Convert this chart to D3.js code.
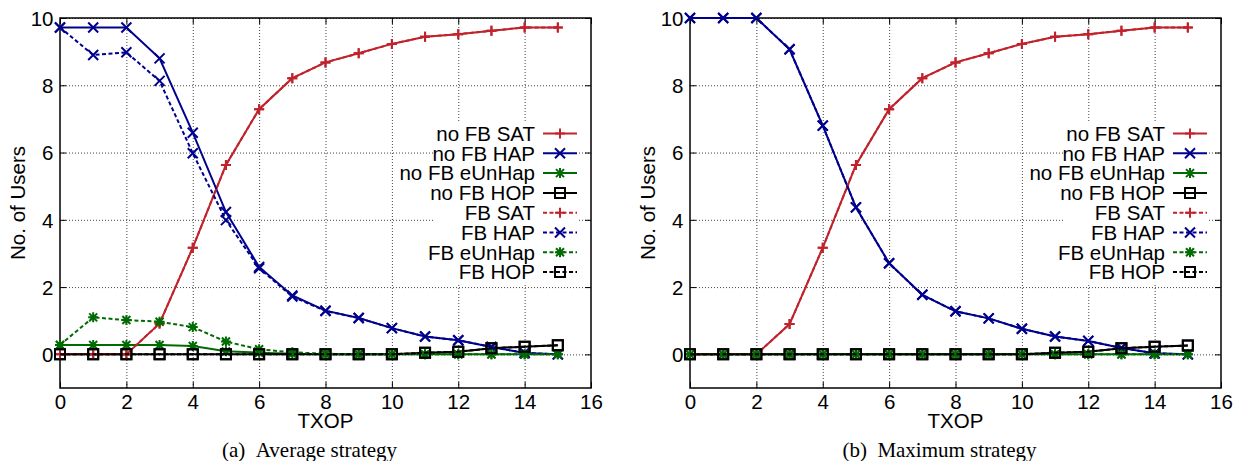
<!DOCTYPE html>
<html>
<head>
<meta charset="utf-8">
<script src="https://cdn.jsdelivr.net/npm/d3@7"></script>
<style>
  body { margin: 0; background: #fff; }
  svg { display: block; }
  text { font-family: "Liberation Sans", Arial, Helvetica, sans-serif; }
  .caption { font-family: "Liberation Serif", "Times New Roman", serif; }
</style>
</head>
<body>
<svg id="chart" width="1240" height="461"></svg>
<script>
// x values (TXOP)
var txop = [0, 1, 2, 3, 4, 5, 6, 7, 8, 9, 10, 11, 12, 13, 14, 15];
var xTicks = [0, 2, 4, 6, 8, 10, 12, 14, 16];
var yTicks = [0, 2, 4, 6, 8, 10];

// (a) Average strategy
var avgNoFbSat   = [0, 0, 0, 0.92, 3.17, 5.63, 7.29, 8.21, 8.68, 8.95, 9.23, 9.44, 9.52, 9.62, 9.72, 9.72];
var avgNoFbHap   = [9.72, 9.72, 9.72, 8.8, 6.59, 4.23, 2.6, 1.75, 1.3, 1.08, 0.78, 0.53, 0.42, 0.22, 0.04, 0];
var avgNoFbUnhap = [0.28, 0.28, 0.28, 0.28, 0.25, 0.09, 0.05, 0.02, 0, 0, 0, 0, 0, 0, 0, 0];
var avgNoFbHop   = [0, 0, 0, 0, 0, 0, 0, 0, 0, 0, 0, 0.05, 0.08, 0.18, 0.23, 0.27];
var avgFbSat     = [0, 0, 0, 0.92, 3.17, 5.63, 7.29, 8.21, 8.68, 8.95, 9.23, 9.44, 9.52, 9.62, 9.72, 9.72];
var avgFbHap     = [9.72, 8.9, 8.98, 8.13, 5.98, 3.99, 2.56, 1.72, 1.29, 1.08, 0.78, 0.53, 0.42, 0.22, 0.04, 0];
var avgFbUnhap   = [0.28, 1.1, 1.02, 0.97, 0.81, 0.38, 0.15, 0.06, 0.02, 0, 0, 0, 0, 0, 0, 0];
var avgFbHop     = [0, 0, 0, 0, 0, 0, 0, 0, 0, 0, 0, 0.05, 0.08, 0.18, 0.23, 0.27];

// (b) Maximum strategy
var maxNoFbSat   = [0, 0, 0, 0.9, 3.17, 5.63, 7.29, 8.21, 8.68, 8.95, 9.23, 9.44, 9.52, 9.62, 9.72, 9.72];
var maxNoFbHap   = [10, 10, 10, 9.07, 6.8, 4.37, 2.71, 1.77, 1.28, 1.07, 0.76, 0.53, 0.4, 0.19, 0.03, 0];
var maxNoFbUnhap = [0, 0, 0, 0, 0, 0, 0, 0, 0, 0, 0, 0, 0, 0, 0, 0];
var maxNoFbHop   = [0, 0, 0, 0, 0, 0, 0, 0, 0, 0, 0, 0.05, 0.08, 0.18, 0.23, 0.26];
var maxFbSat     = [0, 0, 0, 0.9, 3.17, 5.63, 7.29, 8.21, 8.68, 8.95, 9.23, 9.44, 9.52, 9.62, 9.72, 9.72];
var maxFbHap     = [10, 10, 10, 9.07, 6.8, 4.37, 2.71, 1.77, 1.28, 1.07, 0.76, 0.53, 0.4, 0.19, 0.03, 0];
var maxFbUnhap   = [0, 0, 0, 0, 0, 0, 0, 0, 0, 0, 0, 0, 0, 0, 0, 0];
var maxFbHop     = [0, 0, 0, 0, 0, 0, 0, 0, 0, 0, 0, 0.05, 0.08, 0.18, 0.23, 0.26];

var seriesNames = ['no FB SAT', 'no FB HAP', 'no FB eUnHap', 'no FB HOP', 'FB SAT', 'FB HAP', 'FB eUnHap', 'FB HOP'];
var panels = [
  { caption: '(a)\u00a0\u00a0Average strategy', left: 60,
    values: [avgNoFbSat, avgNoFbHap, avgNoFbUnhap, avgNoFbHop, avgFbSat, avgFbHap, avgFbUnhap, avgFbHop] },
  { caption: '(b)\u00a0\u00a0Maximum strategy', left: 690,
    values: [maxNoFbSat, maxNoFbHap, maxNoFbUnhap, maxNoFbHop, maxFbSat, maxFbHap, maxFbUnhap, maxFbHop] }
];

var colors = ['#c0232c', '#00008f', '#006b00', '#000000'];
var shapes = ['plus', 'cross', 'star', 'square'];

var plotTop = 18, plotBottom = 388, plotW = 531;
var fontSize = 20.5;

var svg = d3.select('#chart');

function markerPath(shape) {
  var s = 5;
  if (shape === 'plus') return 'M' + -s + ',0H' + s + 'M0,' + -s + 'V' + s;
  if (shape === 'cross') return 'M' + -s + ',' + -s + 'L' + s + ',' + s + 'M' + -s + ',' + s + 'L' + s + ',' + -s;
  if (shape === 'star') return 'M' + -s + ',0H' + s + 'M0,' + -s + 'V' + s +
    'M-4,-4L4,4M-4,4L4,-4';
  return 'M' + -s + ',' + -s + 'H' + s + 'V' + s + 'H' + -s + 'Z';
}

function drawPanel(p) {
  var x = d3.scaleLinear().domain([0, 16]).range([p.left, p.left + plotW]);
  var y = d3.scaleLinear().domain([-1, 10]).range([plotBottom, plotTop]);
  var g = svg.append('g');

  // grid
  g.append('g')
    .attr('transform', 'translate(0,' + plotBottom + ')')
    .call(d3.axisBottom(x).tickValues(xTicks.slice(1, -1)).tickSize(-(plotBottom - plotTop)).tickFormat(''))
    .call(function(s) { s.select('.domain').remove(); })
    .selectAll('line').attr('stroke', '#444').attr('stroke-dasharray', '1,2');
  g.append('g')
    .attr('transform', 'translate(' + p.left + ',0)')
    .call(d3.axisLeft(y).tickValues(yTicks).tickSize(-plotW).tickFormat(''))
    .call(function(s) { s.select('.domain').remove(); })
    .selectAll('line').attr('stroke', '#444').attr('stroke-dasharray', '1,2');

  // legend box (opaque, hides grid)
  var legRight = p.left + plotW;
  var textEnd = legRight - 56;
  var row0 = 133.5, rowH = 19.8;
  g.append('rect')
    .attr('x', textEnd - 100).attr('y', row0 - 11)
    .attr('width', 100 + 44).attr('height', rowH * 8 + 2)
    .attr('fill', '#fff');

  // axes with inward ticks
  var axes = g.append('g');
  axes.append('g').attr('transform', 'translate(0,' + plotBottom + ')')
    .call(d3.axisBottom(x).tickValues(xTicks).tickSize(-6).tickPadding(6).tickSizeOuter(0));
  axes.append('g').attr('transform', 'translate(0,' + plotTop + ')')
    .call(d3.axisTop(x).tickValues(xTicks).tickSize(-6).tickFormat('').tickSizeOuter(0));
  var yl = axes.append('g').attr('transform', 'translate(' + p.left + ',0)')
    .call(d3.axisLeft(y).tickValues(yTicks).tickSize(-6).tickPadding(6.5).tickSizeOuter(0));
  axes.append('g').attr('transform', 'translate(' + (p.left + plotW) + ',0)')
    .call(d3.axisRight(y).tickValues(yTicks).tickSize(-6).tickFormat('').tickSizeOuter(0));
  axes.selectAll('.domain').remove();
  axes.selectAll('.tick line').attr('stroke', '#000').attr('stroke-width', 1);
  axes.selectAll('g').attr('font-size', fontSize).attr('font-family', '"Liberation Sans", Arial, sans-serif');
  axes.selectAll('text').attr('fill', '#000');
  yl.selectAll('text').attr('dy', '0.36em');

  // frame
  g.append('rect')
    .attr('x', p.left).attr('y', plotTop).attr('width', plotW).attr('height', plotBottom - plotTop)
    .attr('fill', 'none').attr('stroke', '#000').attr('stroke-width', 1.5);

  // series
  var line = d3.line().x(function(d) { return x(d[0]); }).y(function(d) { return y(d[1]); });
  p.values.forEach(function(vals, i) {
    var k = i % 4;
    var dashed = i >= 4;
    var pts = txop.map(function(t, j) { return [t, vals[j]]; });
    var sg = g.append('g');
    sg.append('path').datum(pts)
      .attr('d', line)
      .attr('fill', 'none')
      .attr('stroke', colors[k])
      .attr('stroke-width', 2)
      .attr('stroke-dasharray', dashed ? '4,2.5' : null);
    sg.selectAll('.pt').data(pts).enter().append('path')
      .attr('class', 'pt')
      .attr('transform', function(d) { return 'translate(' + x(d[0]) + ',' + y(d[1]) + ')'; })
      .attr('d', markerPath(shapes[k]))
      .attr('fill', 'none')
      .attr('stroke', colors[k])
      .attr('stroke-width', 2);

    // legend row
    var ry = row0 + i * rowH;
    var lx0 = legRight - 48, lx1 = legRight - 14;
    g.append('text')
      .attr('x', textEnd).attr('y', ry).attr('dy', '0.36em')
      .attr('text-anchor', 'end').attr('font-size', fontSize)
      .text(seriesNames[i]);
    g.append('line')
      .attr('x1', lx0).attr('x2', lx1).attr('y1', ry).attr('y2', ry)
      .attr('stroke', colors[k]).attr('stroke-width', 2)
      .attr('stroke-dasharray', dashed ? '4,2.5' : null);
    g.append('path')
      .attr('transform', 'translate(' + (lx0 + lx1) / 2 + ',' + ry + ')')
      .attr('d', markerPath(shapes[k]))
      .attr('fill', 'none').attr('stroke', colors[k]).attr('stroke-width', 2);
  });

  // axis labels
  g.append('text')
    .attr('x', p.left + plotW / 2).attr('y', 427.5)
    .attr('text-anchor', 'middle').attr('font-size', fontSize)
    .text('TXOP');
  g.append('text')
    .attr('transform', 'translate(' + (p.left - 35) + ',' + ((plotTop + plotBottom) / 2) + ') rotate(-90)')
    .attr('text-anchor', 'middle').attr('font-size', fontSize)
    .text('No. of Users');

  // caption
  g.append('text')
    .attr('class', 'caption')
    .attr('x', p.left + plotW / 2 - 16).attr('y', 456.5)
    .attr('text-anchor', 'middle').attr('font-size', 21)
    .text(p.caption);
}

panels.forEach(drawPanel);
</script>
</body>
</html>
